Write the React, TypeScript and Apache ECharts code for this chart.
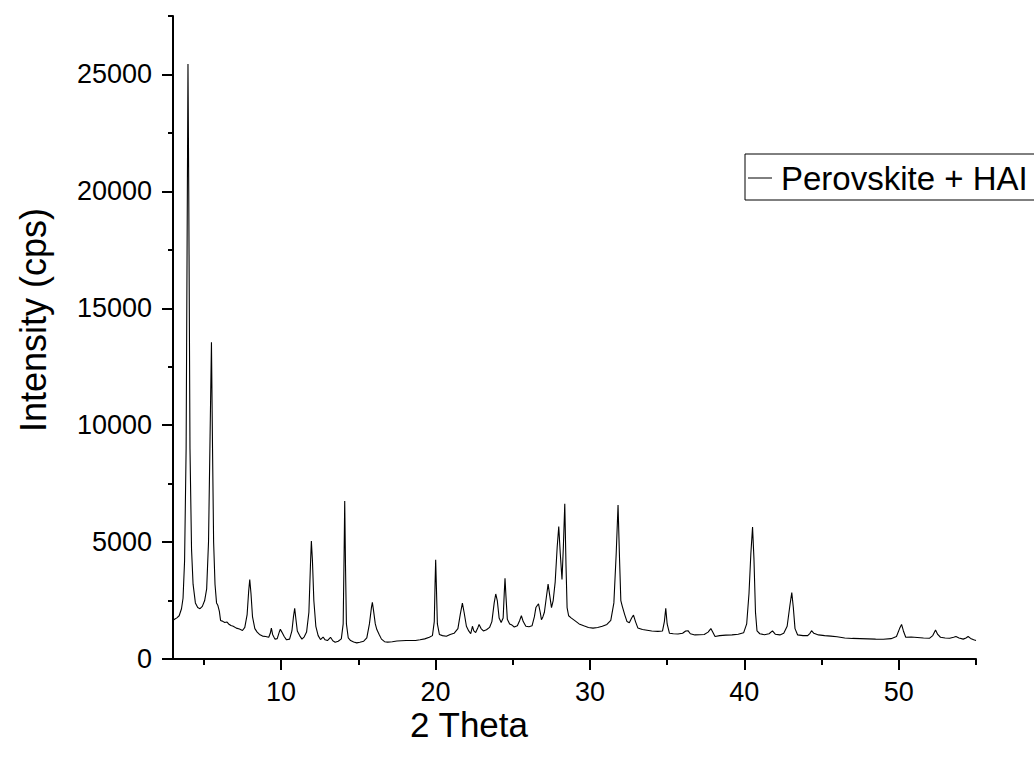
import React, { useEffect, useRef } from "react";
import * as echarts from "echarts";

const FONT = "'Liberation Sans', Arial, sans-serif";

const theta = [
  3.0, 3.1, 3.25, 3.4, 3.55, 3.65, 3.75, 3.85, 3.93, 3.97, 4.02, 4.1, 4.2, 4.3, 4.45, 4.6, 4.75, 4.9, 5.05, 5.18,
  5.3, 5.4, 5.49, 5.56, 5.63, 5.72, 5.82, 5.9, 6.0, 6.08, 6.2, 6.35, 6.5, 6.6, 6.75, 6.9, 7.1, 7.3, 7.5, 7.65,
  7.8, 7.9, 7.97, 8.05, 8.15, 8.3, 8.45, 8.6, 8.8, 9.0, 9.2, 9.3, 9.37, 9.45, 9.6, 9.75, 9.88, 9.95, 10.05, 10.2,
  10.35, 10.55, 10.7, 10.8, 10.88, 10.96, 11.05, 11.2, 11.35, 11.5, 11.65, 11.8, 11.9, 11.96, 12.03, 12.12, 12.25, 12.4, 12.55, 12.72,
  12.85, 13.0, 13.2, 13.35, 13.5, 13.7, 13.9, 14.02, 14.08, 14.12, 14.17, 14.23, 14.35, 14.5, 14.7, 14.9, 15.1, 15.35, 15.55, 15.72,
  15.85, 15.91, 15.98, 16.1, 16.2, 16.35, 16.5, 16.7, 16.9, 17.2, 17.5, 17.8, 18.1, 18.4, 18.7, 19.0, 19.3, 19.6, 19.8, 19.92,
  19.97, 20.01, 20.06, 20.12, 20.25, 20.45, 20.7, 20.95, 21.2, 21.45, 21.6, 21.74, 21.85, 22.0, 22.15, 22.28, 22.39, 22.48, 22.6, 22.75,
  22.82, 22.95, 23.1, 23.3, 23.5, 23.65, 23.8, 23.9, 24.0, 24.12, 24.25, 24.38, 24.45, 24.5, 24.56, 24.65, 24.8, 24.95, 25.1, 25.3,
  25.45, 25.56, 25.68, 25.85, 26.05, 26.25, 26.4, 26.5, 26.6, 26.67, 26.78, 26.86, 26.95, 27.05, 27.15, 27.29, 27.4, 27.51, 27.62, 27.75,
  27.88, 27.98, 28.08, 28.19, 28.28, 28.37, 28.45, 28.52, 28.62, 28.8, 29.0, 29.3, 29.6, 29.9, 30.2, 30.5, 30.8, 31.1, 31.35, 31.55,
  31.7, 31.82, 31.92, 32.0, 32.1, 32.25, 32.4, 32.55, 32.7, 32.82, 32.95, 33.1, 33.4, 33.7, 34.0, 34.4, 34.7, 34.82, 34.91, 35.0,
  35.15, 35.4, 35.7, 36.0, 36.2, 36.35, 36.5, 36.8, 37.1, 37.4, 37.65, 37.83, 37.95, 38.1, 38.4, 38.8, 39.2, 39.6, 39.95, 40.15,
  40.3, 40.42, 40.53, 40.62, 40.72, 40.82, 41.0, 41.3, 41.6, 41.82, 42.0, 42.3, 42.55, 42.77, 42.95, 43.07, 43.17, 43.28, 43.45, 43.8,
  44.1, 44.25, 44.35, 44.5, 44.8, 45.2, 45.6, 46.0, 46.5, 47.0, 47.5, 48.0, 48.5, 49.0, 49.5, 49.85, 50.05, 50.18, 50.3, 50.45,
  50.8, 51.2, 51.6, 52.0, 52.2, 52.38, 52.52, 52.7, 53.0, 53.3, 53.55, 53.7, 53.9, 54.17, 54.35, 54.49, 54.65, 54.85, 55.0,
];

const intensity = [
  1650, 1700, 1760, 1850, 2150, 2600, 4200, 9000, 20000, 25450, 20000, 9000, 4700, 3200, 2400, 2200, 2150, 2250, 2500, 3000,
  5000, 9500, 13550, 9000, 5000, 3200, 2400, 2300, 2050, 1650, 1620, 1560, 1580, 1500, 1430, 1400, 1320, 1280, 1220, 1350,
  1900, 2900, 3400, 2800, 1800, 1300, 1150, 1050, 980, 960, 930, 1100, 1320, 1050, 850, 870, 1150, 1270, 1150, 960,
  820, 850, 1200, 1800, 2170, 1700, 1200, 1000, 850, 950, 1150, 2000, 4000, 5050, 4200, 2500, 1400, 1000, 830, 940,
  820, 790, 930, 780, 720, 760, 860, 1500, 4500, 6760, 4000, 1500, 900, 790, 730, 690, 720, 760, 900, 1500,
  2200, 2420, 2100, 1500, 1260, 1050, 850, 740, 720, 740, 770, 780, 790, 790, 790, 820, 860, 930, 1000, 1600,
  3200, 4240, 3000, 1500, 1050, 1000, 970, 1050, 1100, 1300, 1900, 2390, 2000, 1400, 1200, 1080, 1400, 1200, 1130, 1350,
  1480, 1300, 1200, 1250, 1350, 1600, 2400, 2780, 2500, 1750, 1560, 1750, 2800, 3450, 2700, 1700, 1500, 1450, 1370, 1420,
  1650, 1850, 1600, 1400, 1380, 1420, 1800, 2200, 2300, 2360, 2000, 1680, 1800, 2000, 2500, 3200, 2700, 2200, 2500, 3300,
  4800, 5670, 4500, 3400, 4800, 6640, 4000, 2200, 1850, 1750, 1650, 1500, 1420, 1350, 1320, 1350, 1400, 1480, 1650, 2400,
  4500, 6590, 4200, 2500, 2240, 1900, 1600, 1550, 1750, 1880, 1600, 1330, 1260, 1230, 1200, 1180, 1200, 1600, 2170, 1500,
  1100, 1080, 1070, 1100, 1200, 1210, 1080, 1030, 1040, 1050, 1150, 1300, 1150, 960, 1000, 1020, 1030, 1060, 1120, 1500,
  2800, 4500, 5640, 4300, 2000, 1200, 1080, 1040, 1080, 1200, 1060, 1030, 1100, 1400, 2300, 2840, 2200, 1300, 1030, 1000,
  1000, 1100, 1210, 1100, 1030, 1000, 980, 950, 900, 880, 870, 860, 850, 845, 870, 960, 1300, 1480, 1200, 930,
  940, 920, 900, 890, 1000, 1240, 1050, 930, 900, 890, 930, 960, 900, 850, 900, 960, 880, 820, 790,
];

const xMajorTicks = [10, 20, 30, 40, 50];
const xMinorTicks = [5, 15, 25, 35, 45, 55];
const yMajorTicks = [0, 5000, 10000, 15000, 20000, 25000];
const yMinorTicks = [2500, 7500, 12500, 17500, 22500, 27500];

const seriesName = "Perovskite + HAI";
const xTitle = "2 Theta";
const yTitle = "Intensity (cps)";

export default function App() {
  const ref = useRef<HTMLDivElement>(null);

  useEffect(() => {
    if (!ref.current) return;
    const chart = echarts.init(ref.current, undefined, { renderer: "svg" });
    const axisLineStyle = { color: "#000", width: 2 };
    const option: any = {
      animation: false,
      backgroundColor: "#fff",
      grid: {
        left: 173,
        right: 58,
        top: 16,
        bottom: 98,
        containLabel: false,
        outerBoundsMode: "none",
      },
      xAxis: [
        {
          type: "value",
          min: 3,
          max: 55,
          position: "bottom",
          axisLine: { show: true, onZero: false, lineStyle: axisLineStyle },
          axisTick: { show: true, inside: false, length: 11, lineStyle: axisLineStyle, customValues: xMajorTicks },
          axisLabel: {
            show: true,
            customValues: xMajorTicks,
            fontSize: 27,
            color: "#000",
            margin: 19,
            fontFamily: FONT,
            formatter: (v: number) => String(v),
          },
          splitLine: { show: false },
        },
        {
          type: "value",
          min: 3,
          max: 55,
          position: "bottom",
          axisLine: { show: false, onZero: false },
          axisTick: { show: true, inside: false, length: 6, lineStyle: axisLineStyle, customValues: xMinorTicks },
          axisLabel: { show: false },
          splitLine: { show: false },
        },
      ],
      yAxis: [
        {
          type: "value",
          min: 0,
          max: 27500,
          position: "left",
          axisLine: { show: true, onZero: false, lineStyle: axisLineStyle },
          axisTick: { show: true, inside: false, length: 11, lineStyle: axisLineStyle, customValues: yMajorTicks },
          axisLabel: {
            show: true,
            customValues: yMajorTicks,
            fontSize: 27,
            color: "#000",
            margin: 21,
            fontFamily: FONT,
            formatter: (v: number) => String(v),
          },
          splitLine: { show: false },
        },
        {
          type: "value",
          min: 0,
          max: 27500,
          position: "left",
          axisLine: { show: false, onZero: false },
          axisTick: { show: true, inside: false, length: 5, lineStyle: axisLineStyle, customValues: yMinorTicks },
          axisLabel: { show: false },
          splitLine: { show: false },
        },
      ],
      series: [
        {
          name: seriesName,
          type: "line",
          xAxisIndex: 0,
          yAxisIndex: 0,
          data: theta.map((t, i) => [t, intensity[i]]),
          showSymbol: false,
          symbol: "none",
          lineStyle: { color: "#000", width: 1.1 },
        },
      ],
      graphic: [
        {
          type: "text",
          x: 33,
          y: 320,
          rotation: Math.PI / 2,
          style: {
            text: yTitle,
            fontSize: 36,
            fontFamily: FONT,
            fill: "#000",
            align: "center",
            verticalAlign: "middle",
          },
        },
        {
          type: "text",
          x: 469,
          y: 724,
          style: {
            text: xTitle,
            fontSize: 35,
            fontFamily: FONT,
            fill: "#000",
            align: "center",
            verticalAlign: "middle",
          },
        },
        {
          type: "rect",
          shape: { x: 745, y: 154, width: 400, height: 46 },
          style: { fill: "#fff", stroke: "#000", lineWidth: 1 },
          z: 10,
        },
        {
          type: "line",
          shape: { x1: 748, y1: 178, x2: 772, y2: 178 },
          style: { stroke: "#000", lineWidth: 1 },
          z: 11,
        },
        {
          type: "text",
          x: 781,
          y: 178,
          style: {
            text: seriesName,
            fontSize: 33,
            fontFamily: FONT,
            fill: "#000",
            align: "left",
            verticalAlign: "middle",
          },
          z: 11,
        },
      ],
    };
    chart.setOption(option);
    return () => chart.dispose();
  }, []);

  return (
    <div
      ref={ref}
      style={{ position: "fixed", left: 0, top: 0, width: 1034, height: 757, background: "#fff" }}
    />
  );
}
